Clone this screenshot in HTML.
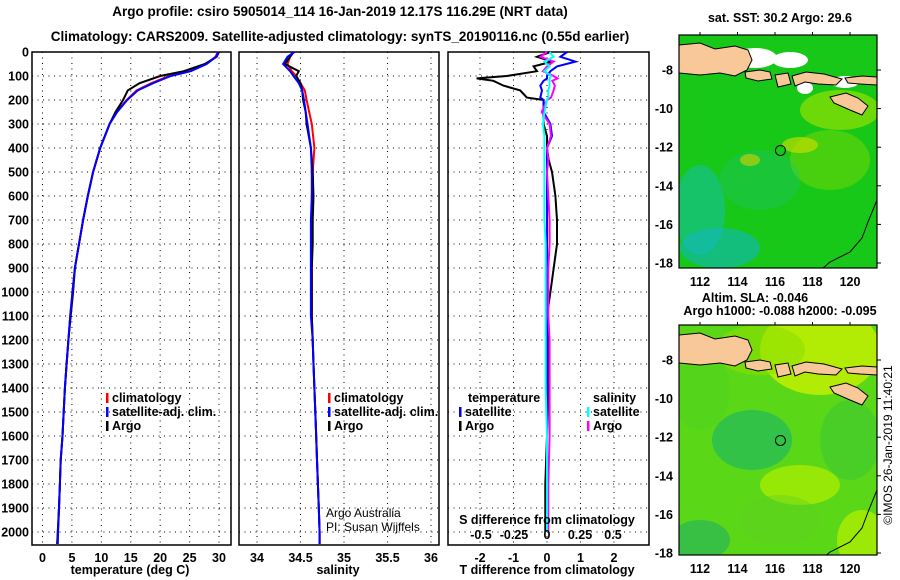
<!DOCTYPE html>
<html><head><meta charset="utf-8"><style>
html,body{margin:0;padding:0;background:#fff;overflow:hidden;}
svg{display:block;font-family:"Liberation Sans",sans-serif;}
.b{font-weight:bold;font-size:12.5px;fill:#000;}
.t{font-weight:bold;font-size:13.5px;fill:#000;}
</style></head><body>
<svg id="c" width="900" height="580" viewBox="0 0 900 580" xmlns="http://www.w3.org/2000/svg">
<text class="t" x="340" y="16" text-anchor="middle">Argo profile: csiro 5905014_114 16-Jan-2019 12.17S 116.29E (NRT data)</text>
<text class="t" x="340" y="41" text-anchor="middle">Climatology: CARS2009. Satellite-adjusted climatology: synTS_20190116.nc (0.55d earlier)</text>
<g id="g"></g>
</svg>
<script>
// ---- data ----
const depthLevels=[0,20,50,80,100,130,160,200,250,300,400,500,600,700,800,900,1000,1100,1200,1300,1400,1500,1600,1700,1800,1900,2000,2050];
const argoTemp=[30,29.6,27.6,24,20,16.5,14.5,13.7,12.4,11.4,9.8,8.6,7.7,6.9,6.2,5.5,5.2,4.8,4.4,4.1,3.8,3.6,3.4,3.1,2.95,2.8,2.6,2.5];
const climTemp=[29.8,29.4,27.8,25,21.5,18.5,16,14.3,12.6,11.4,9.8,8.6,7.7,6.9,6.2,5.5,5.1,4.7,4.4,4.1,3.8,3.6,3.4,3.1,2.95,2.8,2.6,2.5];
const satTemp=[29.9,29.5,27.9,25.2,21.8,18.8,16.2,14.4,12.7,11.4,9.8,8.6,7.7,6.9,6.2,5.5,5.1,4.7,4.4,4.1,3.8,3.6,3.4,3.1,2.95,2.8,2.65,2.6];
const argoSal=[34.42,34.38,34.32,34.48,34.45,34.5,34.52,34.53,34.56,34.57,34.62,34.64,34.65,34.64,34.64,34.63,34.63,34.63,34.64,34.65,34.66,34.67,34.68,34.69,34.7,34.71,34.72,34.72];
const climSal=[34.42,34.38,34.35,34.4,34.45,34.5,34.55,34.57,34.6,34.63,34.66,34.64,34.64,34.63,34.63,34.63,34.63,34.63,34.64,34.65,34.66,34.67,34.68,34.69,34.7,34.71,34.72,34.72];
const satSal=[34.43,34.35,34.3,34.38,34.42,34.48,34.52,34.54,34.56,34.58,34.62,34.63,34.63,34.62,34.62,34.62,34.62,34.62,34.64,34.65,34.66,34.67,34.68,34.69,34.7,34.71,34.72,34.72];
const diffDepth=[0,20,40,60,80,100,110,120,140,160,190,200,250,300,350,400,450,500,600,700,800,900,1000,1100,1200,1400,1600,1800,2000];
const argoTDiff=[0.1,-0.3,0.15,-0.4,-0.3,-1.2,-2.1,-1.6,-1.3,-0.8,-0.6,-0.1,-0.1,-0.1,0,0,0.05,0.15,0.25,0.3,0.3,0.2,0.1,0,0.02,0.03,0,-0.05,-0.05];
const satTDiff=[0.6,0.4,0.85,0.3,0.1,0,0,-0.1,-0.2,-0.15,-0.2,-0.1,-0.1,0.1,0.15,0,0,0,0,0,0,0,0,0,0,0,0,0,0];
const argoSDiff=[0.0,-0.05,0.05,0.0,-0.03,0.05,0.08,0.04,0.06,0.05,0.03,0,-0.04,0.02,0.03,0.0,0.01,0.0,0.01,0.02,0.02,0.01,0.01,0.01,0.02,0.02,0.02,0.01,0.01];
const satSDiff=[0.02,0.05,-0.02,0.02,-0.02,0.03,0.02,0.02,0.02,0.01,0.01,0,-0.02,-0.03,-0.02,-0.02,-0.02,-0.02,-0.02,-0.02,-0.01,-0.01,-0.01,-0.01,-0.01,-0.01,0,0,0];
const depthTicks=[0,100,200,300,400,500,600,700,800,900,1000,1100,1200,1300,1400,1500,1600,1700,1800,1900,2000];
const tempTicks=[0,5,10,15,20,25,30];
const salTicks=[34,34.5,35,35.5,36];
const salTickLabels=["34","34.5","35","35.5","36"];
const tdTicks=[-2,-1,0,1,2];
const sdTicks=[-0.5,-0.25,0,0.25,0.5];
const lonTicks=[112,114,116,118,120];
const latTicks=[-8,-10,-12,-14,-16,-18];

// ---- helpers ----
const NS="http://www.w3.org/2000/svg",G=document.getElementById('g');
function el(t,a,p){const e=document.createElementNS(NS,t);for(const k in a)e.setAttribute(k,a[k]);(p||G).appendChild(e);return e;}
const yD=d=>52+d*0.24;
function lin(v0,p0,v1,p1){return v=>p0+(v-v0)*(p1-p0)/(v1-v0);}
const xT=lin(0,42.5,30,219),xS=lin(34,257,36,431),xTD=lin(0,547,2,614),xSD=lin(0,547,0.5,613);
const pTop=52,pBot=545;
function panel(x0,x1,xs,xf,name){
  const p=el('rect',{x:x0,y:pTop,width:x1-x0,height:pBot-pTop,fill:'none',stroke:'#000','stroke-width':1.5});
  
  
  depthTicks.forEach(d=>{const l=el('line',{x1:x0,x2:x1,y1:yD(d),y2:yD(d),stroke:'#000','stroke-dasharray':'1,4.5','stroke-width':1});
    
    });
  xs.forEach(v=>{const l=el('line',{x1:xf(v),x2:xf(v),y1:pTop,y2:pBot,stroke:'#000','stroke-dasharray':'1,4.5','stroke-width':1});
    
    });
}
function line(xs,ds,xf,col,name,w){
  const pts=xs.map((v,i)=>xf(v).toFixed(1)+','+yD(ds[i]).toFixed(1)).join(' ');
  const l=el('polyline',{points:pts,fill:'none',stroke:col,'stroke-width':w||2});
  
  
}
function txt(s,x,y,a,cls,name,extra){const t=el('text',Object.assign({x:x,y:y,'text-anchor':a||'start',class:cls||'b'},extra||{}));t.textContent=s;
  
  return t;}

depthTicks.forEach(d=>txt(String(d),29,yD(d)+4.5,'end','b','depth-tick-label'));

panel(32,231,tempTicks,xT,'temperature-panel');
line(climTemp,depthLevels,xT,'#f00','temp-climatology-line');
line(argoTemp,depthLevels,xT,'#000','temp-argo-line');
line(satTemp,depthLevels,xT,'#00f','temp-satellite-line');
tempTicks.forEach(v=>txt(String(v),xT(v),562,'middle','b','temp-tick-label'));
txt('temperature (deg C)',130,574,'middle','b','temp-axis-title');

panel(239,439,salTicks,xS,'salinity-panel');
line(climSal,depthLevels,xS,'#f00','sal-climatology-line');
line(argoSal,depthLevels,xS,'#000','sal-argo-line');
line(satSal,depthLevels,xS,'#00f','sal-satellite-line');
salTicks.forEach((v,i)=>txt(salTickLabels[i],xS(v),562,'middle','b','sal-tick-label'));
txt('salinity',338,574,'middle','b','sal-axis-title');

panel(448,649,tdTicks,xTD,'difference-panel');
line(argoTDiff,diffDepth,xTD,'#000','tdiff-argo-line');
line(satTDiff,diffDepth,xTD,'#00f','tdiff-satellite-line');
line(argoSDiff,diffDepth,xSD,'#f0f','sdiff-argo-line');
line(satSDiff,diffDepth,xSD,'#0ff','sdiff-satellite-line');
tdTicks.forEach(v=>txt(String(v),xTD(v),562,'middle','b','tdiff-tick-label'));
sdTicks.forEach(v=>txt(String(v),xSD(v),539,'middle','b','sdiff-tick-label'));
txt('S difference from climatology',547,524,'middle','b','sdiff-axis-title');
txt('T difference from climatology',547,574,'middle','b','tdiff-axis-title');

function leg(x,y,col,s){const r=el('rect',{x:x,y:y-9,width:2.5,height:10,fill:col});
  
  
  txt(s,x+6,y,'start','b','legend-entry');}
[[106,402,'#f00','climatology'],[106,416,'#00f','satellite-adj. clim.'],[106,430,'#000','Argo']].forEach(a=>leg(...a));
[[328,402,'#f00','climatology'],[328,416,'#00f','satellite-adj. clim.'],[328,430,'#000','Argo']].forEach(a=>leg(...a));
txt('temperature',468,402,'start','b','legend-temperature-heading');
txt('salinity',593,402,'start','b','legend-salinity-heading');
[[459,416,'#00f','satellite'],[459,430,'#000','Argo'],[587,416,'#0ff','satellite'],[587,430,'#f0f','Argo']].forEach(a=>leg(...a));
const a1=txt('Argo Australia',326,517,'start','b','credit-line-1');a1.setAttribute('style','font-weight:normal;font-size:12px');
const a2=txt('PI: Susan Wijffels',326,531,'start','b','credit-line-2');a2.setAttribute('style','font-weight:normal;font-size:12px');

// ---- maps ----
const land=[
 [[679,45],[700,43],[715,49],[735,46],[748,50],[752,60],[747,70],[735,76],[720,73],[700,75],[679,73]],
 [[745,72],[760,70],[770,72],[772,79],[758,81],[746,78]],
 [[775,75],[788,73],[791,84],[778,87]],
 [[792,76],[806,72],[824,74],[842,79],[836,85],[818,84],[805,82],[795,86]],
 [[845,78],[862,76],[877,77],[877,85],[860,84],[848,83]],
 [[830,97],[846,93],[858,98],[868,106],[862,115],[850,110],[834,103]]
];
const lonX=lin(112,700,120,850),latY=lin(-8,70,-18,263);
function map(y0,name,bg,blobs,offset){
  const g=el('g',{});
  
  
  const h=name==='sst-map'?233:230;
  const cp=el('clipPath',{id:name+'-clip'},g);el('rect',{x:679,y:y0,width:198,height:h},cp);
  const inner=el('g',{'clip-path':'url(#'+name+'-clip)'},g);
  el('rect',{x:679,y:y0,width:198,height:240,fill:bg},inner);
  blobs.forEach(b=>el('ellipse',{cx:b[0],cy:b[1],rx:b[2],ry:b[3],fill:b[4],opacity:b[5]},inner));
  land.forEach(p=>el('polygon',{points:p.map(q=>q[0]+','+(q[1]+offset)).join(' '),fill:'#f8c898',stroke:'#000','stroke-width':1},inner));
  el('polyline',{points:[[877,200],[868,222],[862,238],[850,252],[830,262],[815,275]].map(q=>q[0]+','+(q[1]+offset)).join(' '),fill:'none',stroke:'#000','stroke-width':1},inner);
  el('rect',{x:679,y:y0,width:198,height:h,fill:'none',stroke:'#000','stroke-width':1.2},g);
  const pin=el('circle',{cx:lonX(116.29),cy:latY(-12.17)+offset,r:5,fill:'none',stroke:'#000','stroke-width':1},g);
  
  
  latTicks.forEach(v=>{txt(String(v),673,latY(v)+offset+4.5,'end','b','lat-tick-label');
    el('line',{x1:877,x2:881,y1:latY(v)+offset,y2:latY(v)+offset,stroke:'#000'},g);});
  lonTicks.forEach(v=>{el('line',{x1:lonX(v),x2:lonX(v),y1:y0-3,y2:y0,stroke:'#000'},g);});
}
const sstBlobs=[[755,58,22,10,'#fff',1],[790,60,18,8,'#fff',1],[845,82,14,6,'#fff',1],[805,88,8,6,'#fff',1],
 [840,110,40,20,'#a8e400',0.6],[830,160,40,30,'#90dc00',0.4],[700,210,25,45,'#18c0a0',0.6],[720,248,40,20,'#10b8c0',0.6],
 [760,180,40,30,'#20c080',0.3],[800,145,18,8,'#d8e000',0.6],[750,160,10,6,'#d8d000',0.6]];
map(35,'sst-map','#18c818',sstBlobs,0);
const slaBlobs=[[820,630-290+10,60,45,'#c8f000',0.8],[760,350,45,25,'#8ee000',0.6],[752,440,40,30,'#10b070',0.55],[700,390,30,40,'#50d020',0.5],
 [800,485,40,20,'#b0f000',0.7],[850,440,30,40,'#30c040',0.4],[862,540,25,30,'#b8f000',0.7],[700,540,30,20,'#20b060',0.6],[780,520,40,25,'#60d020',0.4]];
map(325,'sla-map','#5ad818',slaBlobs,290);
lonTicks.forEach(v=>txt(String(v),lonX(v),286,'middle','b','lon-tick-label'));
lonTicks.forEach(v=>txt(String(v),lonX(v),573,'middle','b','lon-tick-label'));
txt('sat. SST: 30.2 Argo: 29.6',780,22,'middle','b','sst-map-title');
txt('Altim. SLA: -0.046',755,302,'middle','b','sla-map-title');
txt('Argo h1000: -0.088 h2000: -0.095',780,315,'middle','b','sla-map-subtitle');
const im=txt('©IMOS 26-Jan-2019 11:40:21',0,0,'middle','b','imos-timestamp',{transform:'translate(892,445) rotate(-90)'});
im.setAttribute('style','font-weight:normal;font-size:12px');
</script>
</body></html>
